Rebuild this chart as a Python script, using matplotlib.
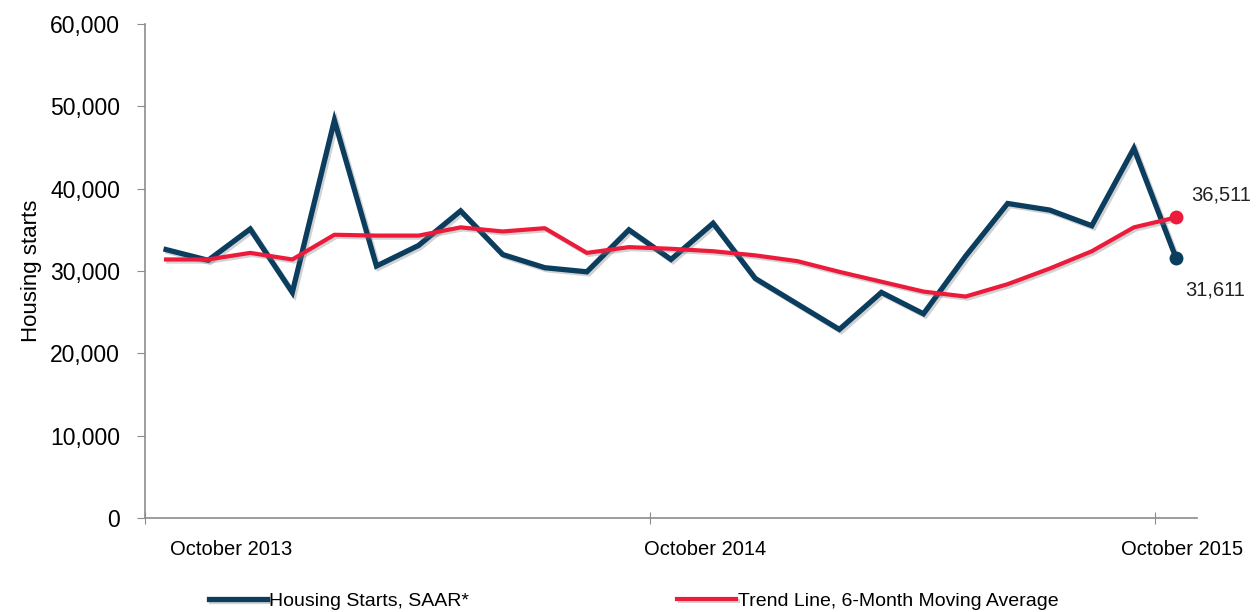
import numpy as np
import matplotlib.pyplot as plt
import matplotlib.patheffects as pe

# monthly, October 2013 .. October 2015
months = ['Oct 2013', 'Nov 2013', 'Dec 2013', 'Jan 2014', 'Feb 2014', 'Mar 2014',
          'Apr 2014', 'May 2014', 'Jun 2014', 'Jul 2014', 'Aug 2014', 'Sep 2014',
          'Oct 2014', 'Nov 2014', 'Dec 2014', 'Jan 2015', 'Feb 2015', 'Mar 2015',
          'Apr 2015', 'May 2015', 'Jun 2015', 'Jul 2015', 'Aug 2015', 'Sep 2015',
          'Oct 2015']
starts = [32600, 31300, 35100, 27400, 48300, 30600, 33100, 37300, 32000, 30400,
          29900, 35000, 31400, 35800, 29100, 26000, 22900, 27400, 24800, 31800,
          38200, 37400, 35500, 44900, 31611]
trend = [31400, 31400, 32200, 31400, 34400, 34300, 34300, 35300, 34800, 35200,
         32200, 32900, 32700, 32400, 31900, 31200, 29900, 28700, 27500, 26900,
         28400, 30300, 32400, 35300, 36511]
year_labels = ['October 2013', 'October 2014', 'October 2015']

plt.rcParams['font.family'] = ['Liberation Sans', 'DejaVu Sans']

navy = '#0a3d5e'
red = '#ec1b3b'
grey = '#8c8c8c'

fig = plt.figure(figsize=(12.6, 6.12), dpi=100)
ax = fig.add_axes([0.1151, 0.1536, 0.8349, 0.8072])

x = np.arange(len(months))
shadow = [pe.SimpleLineShadow(offset=(1.5, -1.5), shadow_color='grey', alpha=0.35), pe.Normal()]
l1, = ax.plot(x, starts, color=navy, lw=3.8, solid_joinstyle='miter',
              path_effects=shadow, label='Housing Starts, SAAR*', zorder=3)
l2, = ax.plot(x, trend, color=red, lw=3.0, path_effects=shadow,
              label='Trend Line, 6-Month Moving Average', zorder=4)
ax.plot(x[-1], starts[-1], 'o', color=navy, ms=9, zorder=5)
ax.plot(x[-1], trend[-1], 'o', color=red, ms=9, zorder=5)

ax.annotate(f'{trend[-1]:,}', (x[-1], trend[-1]), xytext=(11, 16), va='center',
            textcoords='offset points', fontsize=14.5, color='#222222')
ax.annotate(f'{starts[-1]:,}', (x[-1], starts[-1]), xytext=(7, -23), va='center',
            textcoords='offset points', fontsize=14.5, color='#222222')

ax.set_xlim(-0.5, len(months) - 0.5)
ax.set_ylim(0, 60000)
ax.set_yticks(np.arange(0, 60001, 10000))
ax.set_yticklabels([f'{v:,}' for v in range(0, 60001, 10000)], fontsize=16.5)
ax.tick_params(axis='y', direction='out', length=6, color=grey, pad=12)

ax.set_xticks([-0.5, 11.5, 23.5])
ax.set_xticklabels([])
ax.tick_params(axis='x', which='major', direction='inout', length=8, color=grey)
ax.set_xticks([1.55, 12.8, 24.15], minor=True)
ax.set_xticklabels(year_labels, minor=True, fontsize=14.5)
ax.tick_params(axis='x', which='minor', length=0, pad=16)

for s in ['top', 'right']:
    ax.spines[s].set_visible(False)
for s in ['left', 'bottom']:
    ax.spines[s].set_color(grey)
    ax.spines[s].set_linewidth(1.2)

ax.set_ylabel('Housing starts', fontsize=16, labelpad=6)

fig.legend(handles=[l1, l2], loc='center', bbox_to_anchor=(0.503, 0.018), ncol=2,
           frameon=False, prop={'size': 14},
           handlelength=3.0, handletextpad=0.1, columnspacing=10.7)

fig.savefig('out.png', dpi=100)
